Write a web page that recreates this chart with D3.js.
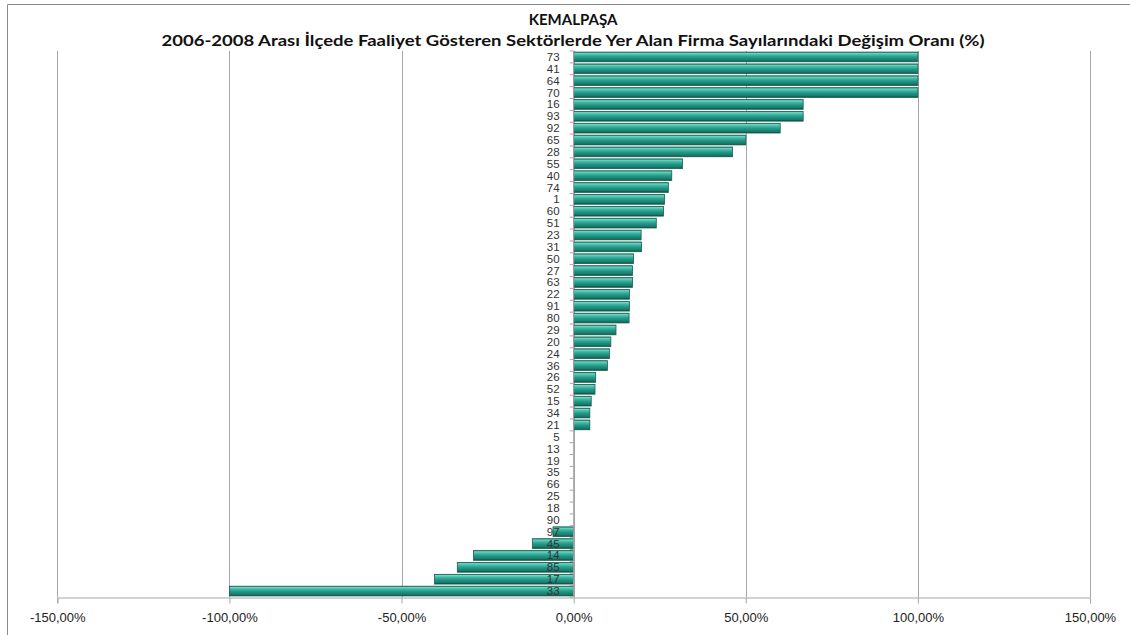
<!DOCTYPE html>
<html><head><meta charset="utf-8">
<script src="https://cdn.jsdelivr.net/npm/d3@7"></script>
<style>html,body{margin:0;padding:0;background:#fff;}svg{display:block;}</style>
</head><body>
<svg id="c" width="1130" height="635"></svg>
<script>
const categories = ["73","41","64","70","16","93","92","65","28","55","40","74","1","60","51","23","31","50","27","63","22","91","80","29","20","24","36","26","52","15","34","21","5","13","19","35","66","25","18","90","97","45","14","85","17","33"];
const values = [100,100,100,100,66.67,66.67,60,50,46.15,31.6,28.5,27.5,26.4,26.1,24.0,19.6,19.7,17.4,17.1,17.1,16.2,16.2,16.1,12.3,10.8,10.4,9.8,6.4,6.2,5.1,4.7,4.7,0,0,0,0,0,0,0,0,-6.0,-12.0,-29.1,-33.8,-40.4,-100];
const xTicks = [-150,-100,-50,0,50,100,150];
const titleText = "KEMALPAŞA";
const subtitleText = "2006-2008 Arası İlçede Faaliyet Gösteren Sektörlerde Yer Alan Firma Sayılarındaki Değişim Oranı (%)";

(function(){
const svg = d3.select("#c");
const pL = 57.3, pR = 1090, pT = 51, pB = 597;
const x = d3.scaleLinear().domain([-150,150]).range([pL,pR]);
const y = d3.scaleBand().domain(categories).range([pT,pB]).paddingInner(0.18).paddingOuter(0.09);

svg.append("path").attr("d",`M7.5,635 V4.5 H1130`).attr("fill","none").attr("stroke","#8a8a8a").attr("stroke-width",1);

const defs = svg.append("defs");
const g = defs.append("linearGradient").attr("id","barg").attr("x1",0).attr("y1",0).attr("x2",0).attr("y2",1);
[[0,"#1c7669"],[0.12,"#72d4c2"],[0.3,"#3fb8a4"],[0.55,"#229886"],[0.85,"#18796a"],[1,"#0d463e"]].forEach(s=>g.append("stop").attr("offset",s[0]).attr("stop-color",s[1]));

svg.append("g").selectAll("line").data(xTicks).join("line")
  .attr("x1",d=>Math.round(x(d))+0.5).attr("x2",d=>Math.round(x(d))+0.5)
  .attr("y1",pT).attr("y2",pB)
  .attr("stroke","#a6a6a6").attr("stroke-width",1);

const xAxis = d3.axisBottom(x).tickValues(xTicks).tickSize(6).tickPadding(9)
  .tickFormat(d=>(d<0?"-":"")+d3.format(".2f")(Math.abs(d)).replace(".",",")+"%");
const gx = svg.append("g").attr("transform",`translate(0,${pB+0.5})`).call(xAxis);
gx.select(".domain").attr("stroke","#a6a6a6");
gx.selectAll(".tick line").attr("stroke","#a6a6a6");
gx.selectAll("text").attr("font-family","'Liberation Sans', Arial, sans-serif").attr("font-size",13).attr("fill","#222");

svg.append("g").selectAll("rect").data(categories.map((c,i)=>({c,v:values[i]})).filter(d=>d.v!==0)).join("rect")
  .attr("x",d=>x(Math.min(0,d.v)))
  .attr("width",d=>Math.abs(x(d.v)-x(0)))
  .attr("y",d=>y(d.c))
  .attr("height",y.bandwidth())
  .attr("fill","url(#barg)")
  .attr("stroke","#17604f").attr("stroke-width",0.8);

const x0 = x(0);
svg.append("line").attr("x1",x0).attr("x2",x0).attr("y1",pT).attr("y2",pB).attr("stroke","#a6a6a6");
const bounds = d3.range(categories.length+1).map(i=>pT + i*(pB-pT)/categories.length);
svg.append("g").selectAll("line").data(bounds).join("line")
  .attr("x1",x0-4).attr("x2",x0).attr("y1",d=>d).attr("y2",d=>d).attr("stroke","#a6a6a6");

svg.append("g").selectAll("text").data(categories).join("text")
  .attr("x",x0-14).attr("y",d=>y(d)+y.bandwidth()/2)
  .attr("dy","0.35em").attr("text-anchor","end")
  .attr("font-family","'Liberation Sans', Arial, sans-serif").attr("font-size",11.5).attr("fill","#333")
  .text(d=>d);

svg.append("text").attr("x",573).attr("y",25).attr("text-anchor","middle")
  .attr("font-family","Lato, 'Open Sans', sans-serif").attr("font-weight","bold").attr("font-size",15).attr("fill","#111")
  .text(titleText);
svg.append("text").attr("x",573).attr("y",46).attr("text-anchor","middle")
  .attr("font-family","Lato, 'Open Sans', sans-serif").attr("font-weight","bold").attr("font-size",15).attr("fill","#111")
  .attr("textLength",823).attr("lengthAdjust","spacingAndGlyphs")
  .text(subtitleText);
})();
</script>
</body></html>
